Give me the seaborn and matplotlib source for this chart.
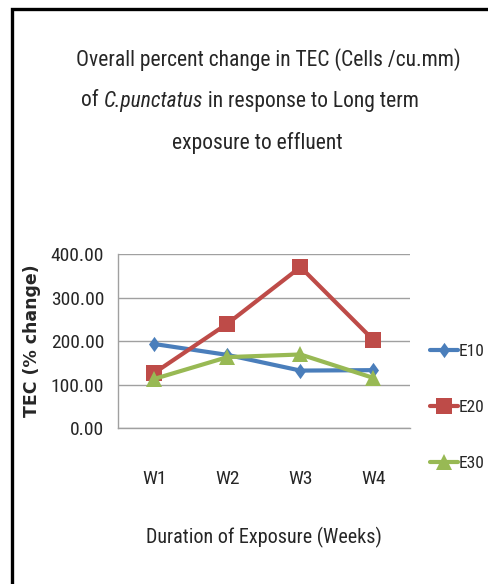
import matplotlib
matplotlib.use("Agg")
import matplotlib.pyplot as plt
import seaborn as sns
import pandas as pd
from matplotlib.patches import Rectangle
from matplotlib import font_manager

weeks = ["W1", "W2", "W3", "W4"]
e10 = [193, 168, 132, 133]
e20 = [127, 240, 370, 202]
e30 = [113, 163, 169, 115]
series_names = ["E10", "E20", "E30"]
yticks = [0, 100, 200, 300, 400]

names = {f.name for f in font_manager.fontManager.ttflist}
narrow = "Liberation Sans"
for cand in ["Liberation Sans Narrow", "Roboto Condensed", "Open Sans Condensed", "Lato"]:
    if cand in names:
        narrow = cand
        break

sns.set_theme(style="white")
plt.rcParams["font.family"] = [narrow, "DejaVu Sans"]

rows = []
for name, vals in zip(series_names, [e10, e20, e30]):
    for w, v in zip(weeks, vals):
        rows.append({"week": w, "value": v, "series": name})
df = pd.DataFrame(rows)

colors = {"E10": "#4A7EBB", "E20": "#BE4B48", "E30": "#98B954"}
diamond = [(0, 1), (0.72, 0), (0, -1), (-0.72, 0), (0, 1)]
markers = {"E10": diamond, "E20": "s", "E30": "^"}

fig = plt.figure(figsize=(4.89, 5.84), dpi=100)
ax = fig.add_axes([118/489, 1-428/584, (410-118)/489, (428-254)/584])

sns.lineplot(data=df, x="week", y="value", hue="series", style="series",
             palette=colors, markers=markers, dashes=False, linewidth=3.0,
             markersize=11, markeredgewidth=0, ax=ax, sort=False)

ax.set_xlim(-0.5, 3.5)
ax.set_ylim(0, 400)
ax.set_yticks(yticks)
ax.set_yticklabels([f"{t:.2f}" for t in yticks], fontsize=14)
ax.set_xticks(range(len(weeks)))
ax.set_xticklabels(weeks, fontsize=14)
ax.tick_params(axis="x", pad=30, length=0)
ax.tick_params(axis="y", pad=10, length=0)
ax.yaxis.grid(True, color="#A0A0A0", linewidth=1)
for s in ["top", "right"]:
    ax.spines[s].set_visible(False)
for s in ["left", "bottom"]:
    ax.spines[s].set_color("#A0A0A0")
    ax.spines[s].set_linewidth(1)

ax.set_xlabel("Duration of Exposure (Weeks)", fontsize=14.5, labelpad=28)
ax.set_ylabel("TEC (% change)", fontsize=12.5, fontweight="bold",
              family="DejaVu Sans", labelpad=7)

leg = ax.legend(loc="center left", bbox_to_anchor=(1.07, 0.12), frameon=False,
                fontsize=12.5, labelspacing=2.35, handlelength=1.6,
                handletextpad=0.05, borderaxespad=0, borderpad=0)

tsize = 15.5
fig.text(268/489, 1-60/584, "Overall percent change in TEC (Cells /cu.mm)",
         ha="center", va="center", fontsize=tsize)
fig.text(257/489, 1-143/584, "exposure to effluent",
         ha="center", va="center", fontsize=tsize)

# second title line with italic species name
y2 = 1-101/584
cx2 = 250/489
pieces = [("of ", "normal"), ("C.punctatus", "italic"), (" in response to Long term", "normal")]
renderer = fig.canvas.get_renderer()
texts = [fig.text(0, y2, s, ha="left", va="center", fontsize=tsize, style=st) for s, st in pieces]
widths = [t.get_window_extent(renderer).width / fig.bbox.width for t in texts]
x = cx2 - sum(widths) / 2
for t, w in zip(texts, widths):
    t.set_x(x)
    x += w

fig.patches.append(Rectangle((12/489, -0.2), 1.2, 1-9/584+0.2,
                             transform=fig.transFigure, fill=False,
                             edgecolor="black", linewidth=2.4))

fig.savefig("out.png", dpi=100)
